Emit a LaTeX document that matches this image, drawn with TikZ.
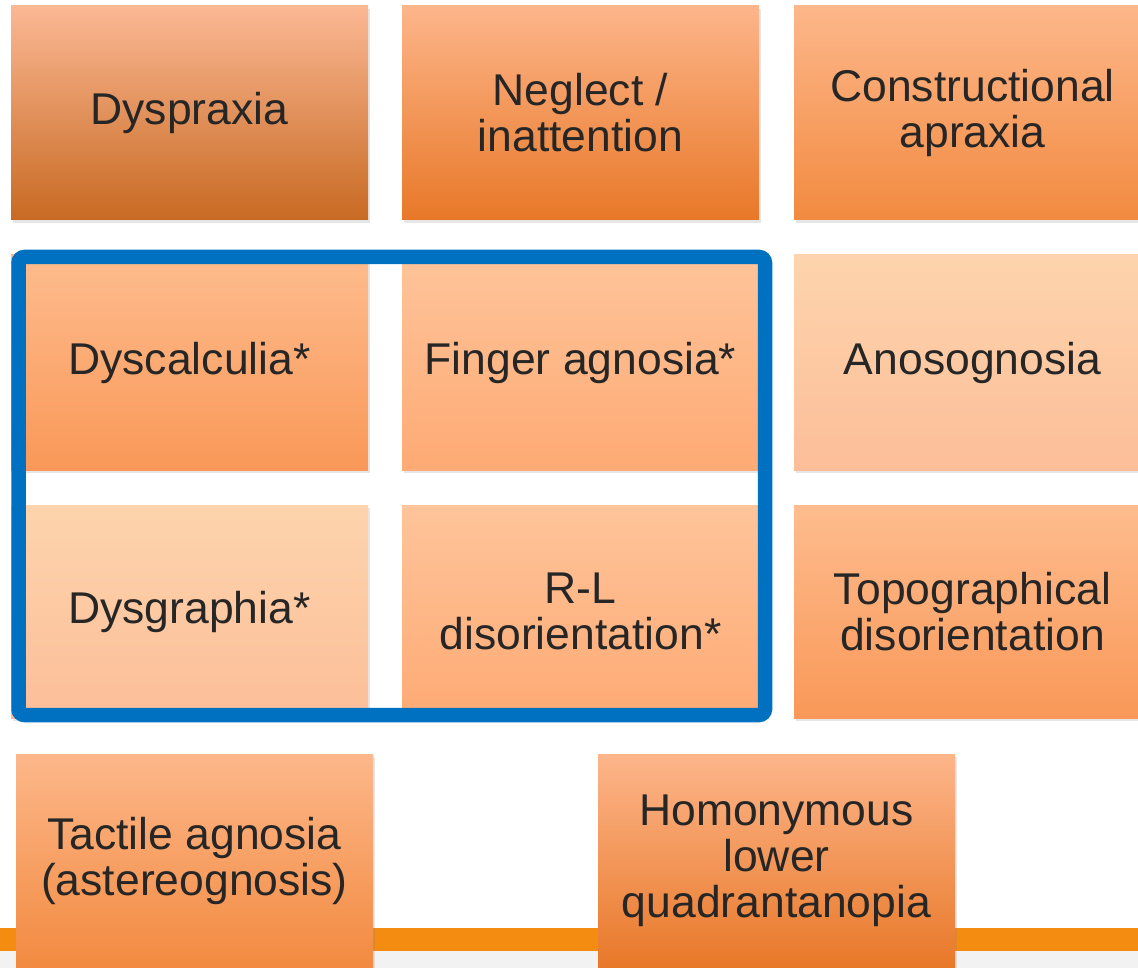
\documentclass[tikz,border=0pt]{standalone}
\usepackage{fontspec}
\setmainfont{Liberation Sans}
\usetikzlibrary{shadows}

\definecolor{inkgrey}{HTML}{262626}
\definecolor{frameblue}{HTML}{0070C0}
\definecolor{barorange}{HTML}{F48C12}
\definecolor{footgrey}{HTML}{F2F2F2}

\begin{document}
\begin{tikzpicture}[
    x=1pt, y=-1pt,
    card/.style={rectangle, minimum width=357pt, minimum height=214pt, inner sep=0pt, align=center,
        text=inkgrey, font=\fontsize{44.5}{46}\selectfont,
        drop shadow={shadow xshift=1.5pt, shadow yshift=-3pt, opacity=0.2}},
    shadeA/.style={top color={rgb,255:red,251;green,184;blue,148}, bottom color={rgb,255:red,200;green,106;blue,34}},
    shadeB/.style={top color={rgb,255:red,253;green,181;blue,138}, bottom color={rgb,255:red,232;green,120;blue,40}},
    shadeC/.style={top color={rgb,255:red,253;green,183;blue,138}, bottom color={rgb,255:red,242;green,138;blue,64}},
    shadeD/.style={top color={rgb,255:red,254;green,188;blue,142}, bottom color={rgb,255:red,249;green,152;blue,88}},
    shadeE/.style={top color={rgb,255:red,254;green,196;blue,154}, bottom color={rgb,255:red,254;green,170;blue,116}},
    shadeF/.style={top color={rgb,255:red,253;green,212;blue,173}, bottom color={rgb,255:red,252;green,190;blue,152}}
]
\useasboundingbox (0,0) rectangle (1138,968);
\clip (0,0) rectangle (1138,968);

% footer band
\fill[barorange] (0,928) rectangle (1138,951);
\fill[footgrey] (0,951) rectangle (1138,968);

% first row
\node[card, shadeA] (dyspraxia) at (189.5,113) {Dyspraxia};
\node[card, shadeB] (neglect) at (580.5,113) {Neglect /\\inattention};
\node[card, shadeC] (constr) at (972.5,113) {Constructional\\apraxia};

% Gerstmann block
\node[card, shadeD, minimum height=215pt] (dyscalc) at (189.5,362.5) {Dyscalculia*};
\node[card, shadeE, minimum height=215pt] (finger) at (580.5,362.5) {Finger agnosia*};
\node[card, shadeF, minimum height=215pt] (anosog) at (972.5,362.5) {Anosognosia};
\node[card, shadeF, minimum height=213pt] (dysgraph) at (189.5,611.5) {Dysgraphia*};
\node[card, shadeE, minimum height=213pt] (rldis) at (580.5,611.5) {R-L\\disorientation*};
\node[card, shadeD, minimum height=213pt] (topo) at (972.5,611.5) {Topographical\\disorientation};

\draw[frameblue, line width=14.5pt, rounded corners=6pt] (18.5,257) rectangle (765,715);

% last row
\node[card, shadeC] (tactile) at (194.5,861) {Tactile agnosia\\(astereognosis)};
\node[card, shadeB] (homon) at (776.5,861) {Homonymous\\lower\\quadrantanopia};
\end{tikzpicture}
\end{document}
